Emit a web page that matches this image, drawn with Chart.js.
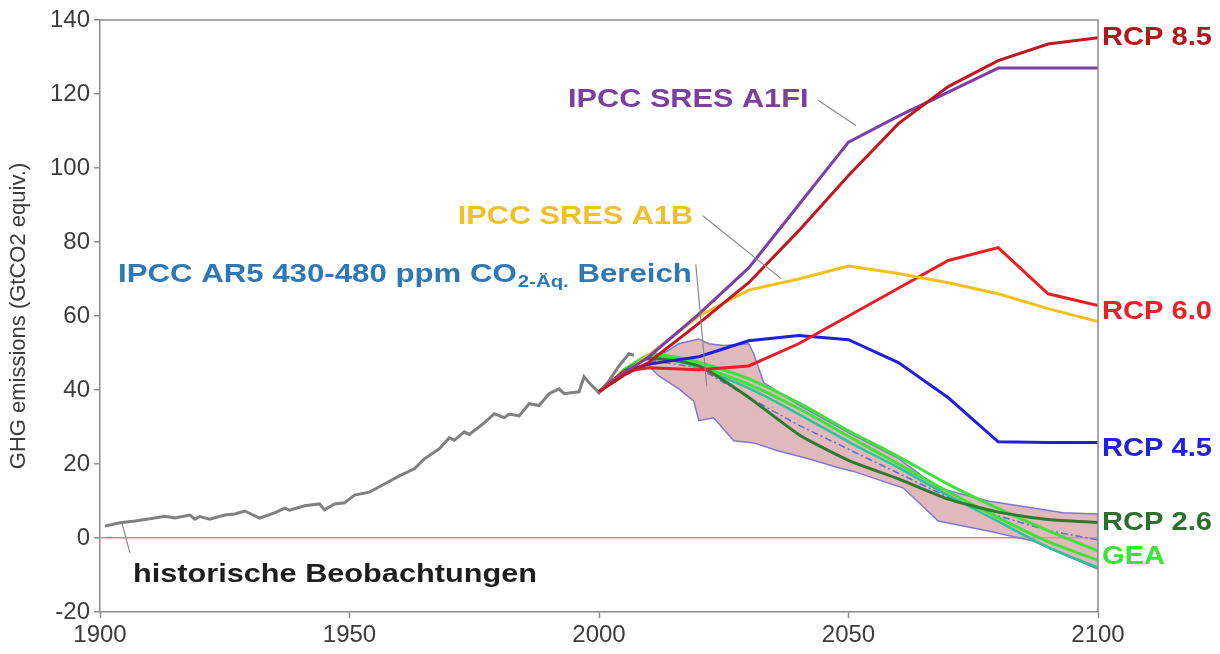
<!DOCTYPE html>
<html lang="de">
<head>
<meta charset="utf-8">
<title>GHG emissions – Szenarien</title>
<script src="https://cdn.jsdelivr.net/npm/chart.js@4.4.1/dist/chart.umd.min.js"></script>
<style>
  html, body { margin: 0; padding: 0; background: #fff; }
  #chart { display: block; }
</style>
</head>
<body>
<canvas id="chart" width="1220" height="654"></canvas>
<script>
/* ── Data (GtCO2 equiv.) ── */
var histYears = [1901, 1904, 1907, 1910, 1913, 1915, 1918, 1919, 1920, 1922, 1925, 1927, 1929, 1932, 1935, 1937, 1938, 1941, 1944, 1945, 1947, 1949, 1951, 1954, 1957, 1960, 1963, 1965, 1968, 1970, 1971, 1973, 1974, 1977, 1979, 1981, 1982, 1984, 1986, 1988, 1990, 1992, 1993, 1996, 1997, 1998, 2000, 2002, 2004, 2006, 2007];
var histValues = [3.2, 4.1, 4.6, 5.2, 5.9, 5.4, 6.2, 5.1, 5.8, 5.1, 6.2, 6.5, 7.3, 5.4, 6.8, 8.1, 7.5, 8.7, 9.2, 7.6, 9.2, 9.5, 11.6, 12.4, 14.6, 16.8, 18.7, 21.4, 24.1, 27.1, 26.4, 28.7, 28.0, 31.1, 33.6, 32.5, 33.5, 33.0, 36.3, 35.8, 39.0, 40.3, 39.0, 39.5, 43.6, 42.0, 39.2, 42.5, 46.5, 49.8, 49.4];

var scenarioYears = [2000, 2005, 2010, 2020, 2030, 2040, 2050, 2060, 2070, 2080, 2090, 2100];
var rcp85Values = [39.5, 44, 47.5, 58, 69, 83, 98, 112, 122, 129, 133.5, 135.2];
var a1fiValues  = [39.5, 44.5, 49, 60.5, 73, 90, 107, 114, 120.5, 127, 127, 127];
var a1bValues   = [39.5, 44.5, 49.5, 60, 67, 70, 73.5, 71.5, 69, 66, 62, 58.5];
var rcp60Values = [39.5, 45, 46, 45.5, 46.5, 52.5, 60, 67.5, 75, 78.5, 66, 62.8];
var rcp45Values = [39.5, 45, 47, 49, 53.3, 54.7, 53.6, 47.4, 37.9, 26, 25.8, 25.8];
var rcp26Values = [39.5, 45, 48.5, 46.5, 38, 28, 21, 16, 10.5, 7, 5, 4.2];

var geaYears = [2003, 2005, 2010, 2015, 2020, 2030, 2040, 2050, 2060, 2070, 2080, 2090, 2100];
var gea1Values = [42, 45, 49.5, 49, 47.5, 43, 36.5, 29, 22, 14.5, 8, 2, -3.5];
var gea2Values = [42.5, 45.5, 49, 48.5, 46.5, 41.5, 35, 27.5, 20, 12.5, 5.5, -1, -6];
var gea3Values = [42, 45, 48.5, 48, 46, 40.5, 33.5, 26, 19, 11.5, 4.5, -2.5, -8];

var medianYears = [2010, 2020, 2030, 2040, 2050, 2060, 2070, 2080, 2090, 2100];
var medianValues = [48, 46, 38, 30.5, 24, 17.5, 11, 6, 2, -0.5];

/* AR5 430-480 ppm range: upper edge forward, lower edge back */
var bandUpperYears = [2010, 2013, 2016, 2020, 2022, 2025, 2030, 2031, 2033, 2040, 2050, 2060, 2068, 2078, 2093, 2100];
var bandUpperValues = [46.5, 50, 52.5, 53.8, 52.5, 52, 52.5, 49.8, 42, 36, 28.5, 21.5, 13.5, 10, 6.8, 6.5];
var bandLowerYears = [2100, 2093, 2087, 2078, 2068, 2061, 2051, 2048, 2042, 2036, 2031, 2027, 2023, 2020, 2019, 2016, 2012, 2010];
var bandLowerValues = [-8.4, -4.4, -0.8, 1.9, 4.6, 13.5, 18, 19, 21.4, 23.5, 25.7, 26.3, 32.5, 31.7, 37, 40.3, 43.8, 46.5];

var xTicks = [1900, 1950, 2000, 2050, 2100];
var yTicks = [-20, 0, 20, 40, 60, 80, 100, 120, 140];

(function () {
  "use strict";

  var FONT = '"Liberation Sans", Arial, sans-serif';

  /* ── Helpers ── */
  function pts(xs, ys) {
    return xs.map(function (x, i) { return { x: x, y: ys[i] }; });
  }

  function line(label, data, color, width, order, extra) {
    var ds = {
      label: label,
      data: data,
      borderColor: color,
      borderWidth: width,
      pointRadius: 0,
      fill: false,
      tension: 0,
      order: order,
    };
    if (extra) Object.keys(extra).forEach(function (k) { ds[k] = extra[k]; });
    return ds;
  }

  function stretchText(ctx, text, x, y, font, color, sx) {
    ctx.save();
    ctx.font = font;
    ctx.fillStyle = color;
    ctx.textAlign = "left";
    ctx.textBaseline = "middle";
    ctx.translate(x, y);
    ctx.scale(sx, 1);
    ctx.fillText(text, 0, 0);
    var w = ctx.measureText(text).width * sx;
    ctx.restore();
    return w;
  }

  /* ── Annotations (anchored in data units) ── */
  var notes = [
    { text: "IPCC SRES A1FI", year: 1993.8, value: 118.3, color: "#7a3f9f" },
    { text: "IPCC SRES A1B", year: 1971.7, value: 86.9, color: "#f2bf2c" },
    { text: "historische Beobachtungen", year: 1906.6, value: -10, color: "#1e1e1e" },
  ];
  var leaders = [
    [[2043.9, 118.3], [2051.5, 111.5]],
    [[2020.8, 87.1], [2036.5, 70.1]],
    [[2019.4, 74], [2021.6, 41]],
    [[1904.4, 4.1], [1906, -4]],
  ];
  var endLabels = [
    { text: "RCP 8.5", value: 135.2, color: "#b3151c" },
    { text: "RCP 6.0", value: 61, color: "#ea1f27" },
    { text: "RCP 4.5", value: 24.2, color: "#2121d6" },
    { text: "RCP 2.6", value: 4.1, color: "#2a6f2c" },
    { text: "GEA", value: -5.2, color: "#3de23a" },
  ];

  var overlay = {
    id: "overlay",
    afterDraw: function (chart) {
      var ctx = chart.ctx;
      var a = chart.chartArea;
      var xs = chart.scales.x;
      var ys = chart.scales.y;
      var bold = "bold 26px " + FONT;

      /* frame top + right */
      ctx.save();
      ctx.strokeStyle = "#8c8c8c";
      ctx.lineWidth = 1.5;
      ctx.beginPath();
      ctx.moveTo(a.left, a.top);
      ctx.lineTo(a.right, a.top);
      ctx.lineTo(a.right, a.bottom);
      ctx.stroke();

      /* leader lines */
      ctx.strokeStyle = "#8a8a8a";
      ctx.lineWidth = 1.2;
      leaders.forEach(function (l) {
        ctx.beginPath();
        ctx.moveTo(xs.getPixelForValue(l[0][0]), ys.getPixelForValue(l[0][1]));
        ctx.lineTo(xs.getPixelForValue(l[1][0]), ys.getPixelForValue(l[1][1]));
        ctx.stroke();
      });
      ctx.restore();

      notes.forEach(function (n) {
        stretchText(ctx, n.text, xs.getPixelForValue(n.year), ys.getPixelForValue(n.value), bold, n.color, 1.18);
      });

      /* AR5 label with subscript */
      var ax = xs.getPixelForValue(1903.6);
      var ay = ys.getPixelForValue(71.2);
      var blue = "#2f78b7";
      ax += stretchText(ctx, "IPCC AR5 430-480 ppm CO", ax, ay, bold, blue, 1.2);
      ax += stretchText(ctx, "2-Äq.", ax + 1, ay + 8, "bold 17px " + FONT, blue, 1.2) + 1;
      stretchText(ctx, " Bereich", ax, ay, bold, blue, 1.2);

      endLabels.forEach(function (r) {
        stretchText(ctx, r.text, a.right + 4, ys.getPixelForValue(r.value), bold, r.color, 1.12);
      });
    },
  };

  /* ── Datasets ── */
  var bandData = pts(bandUpperYears, bandUpperValues).concat(pts(bandLowerYears, bandLowerValues));

  var datasets = [
    line("AR5 430-480 ppm", bandData, "#7a7ad6", 1.5, 20, { fill: "shape", backgroundColor: "rgba(214,158,163,0.72)" }),
    line("historisch", pts(histYears, histValues), "#808080", 3, 19),
    line("AR5 Median", pts(medianYears, medianValues), "#5b6fd0", 1.5, 18, { borderDash: [7, 3, 2, 3] }),
    line("GEA 3", pts(geaYears, gea3Values), "#2cc39a", 2.5, 17, { tension: 0.3 }),
    line("GEA 2", pts(geaYears, gea2Values), "#3ee23a", 3, 16, { tension: 0.3 }),
    line("GEA 1", pts(geaYears, gea1Values), "#3ee23a", 3, 15, { tension: 0.3 }),
    line("RCP 2.6", pts(scenarioYears, rcp26Values), "#2f7a30", 3, 14, { tension: 0.2 }),
    line("RCP 4.5", pts(scenarioYears, rcp45Values), "#1f1fdc", 3, 13),
    line("RCP 6.0", pts(scenarioYears, rcp60Values), "#ee1c25", 3, 12),
    line("IPCC SRES A1B", pts(scenarioYears, a1bValues), "#f4c11c", 3, 11),
    line("IPCC SRES A1FI", pts(scenarioYears, a1fiValues), "#7b3fa6", 3, 10),
    line("RCP 8.5", pts(scenarioYears, rcp85Values), "#bf1820", 3, 9),
  ];

  /* ── Chart ── */
  new Chart(document.getElementById("chart").getContext("2d"), {
    type: "line",
    data: { datasets: datasets },
    plugins: [overlay],
    options: {
      responsive: false,
      animation: false,
      devicePixelRatio: 1,
      layout: { padding: { top: 20, right: 122, bottom: 0, left: 0 } },
      plugins: { legend: { display: false }, tooltip: { enabled: false } },
      scales: {
        x: {
          type: "linear",
          min: xTicks[0],
          max: xTicks[xTicks.length - 1],
          afterBuildTicks: function (s) { s.ticks = xTicks.map(function (v) { return { value: v }; }); },
          afterFit: function (s) { s.height = 42; },
          ticks: {
            color: "#3c3c3c",
            font: { family: FONT, size: 24 },
            padding: 3,
            maxRotation: 0,
            callback: function (v) { return String(v); },
          },
          grid: { drawOnChartArea: false, tickLength: 6, tickColor: "#8c8c8c", tickWidth: 1.5 },
          border: { color: "#8c8c8c", width: 1.5 },
        },
        y: {
          type: "linear",
          min: yTicks[0],
          max: yTicks[yTicks.length - 1],
          afterBuildTicks: function (s) { s.ticks = yTicks.map(function (v) { return { value: v }; }); },
          afterFit: function (s) { s.width = 100; },
          ticks: { color: "#3c3c3c", font: { family: FONT, size: 24 }, padding: 4 },
          grid: {
            color: function (c) { return c.tick && c.tick.value === 0 ? "#ef7885" : "rgba(0,0,0,0)"; },
            lineWidth: 1.5,
            tickLength: 6,
            tickColor: "#8c8c8c",
            tickWidth: 1.5,
          },
          border: { color: "#8c8c8c", width: 1.5 },
          title: {
            display: true,
            text: "GHG emissions (GtCO2 equiv.)",
            color: "#3c3c3c",
            font: { family: FONT, size: 22 },
            padding: { top: 6, bottom: 0 },
          },
        },
      },
    },
  });
})();
</script>
</body>
</html>
